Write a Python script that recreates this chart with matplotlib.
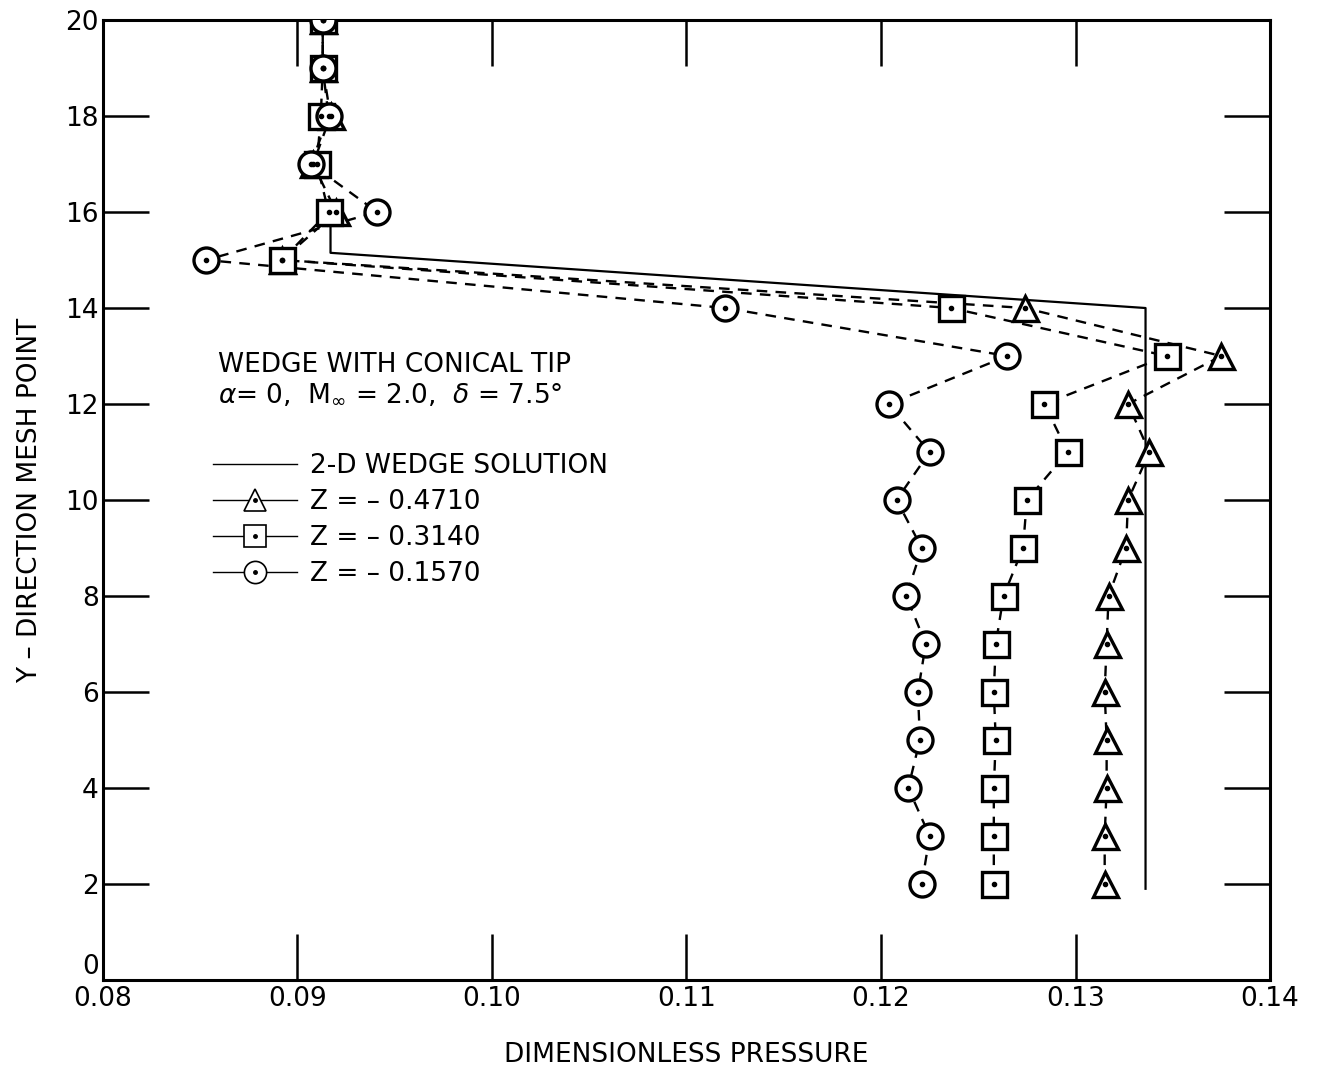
import matplotlib
matplotlib.use("Agg")
import matplotlib.pyplot as plt
from matplotlib.lines import Line2D

plt.rcParams['font.family'] = ['DejaVu Sans']

mesh_y = [2, 3, 4, 5, 6, 7, 8, 9, 10, 11, 12, 13, 14, 15, 16, 17, 18, 19, 20]

# pressure along the y mesh lines for three z stations
p_z0471 = [0.1315, 0.1315, 0.1316, 0.1316, 0.1315, 0.1316, 0.1317, 0.1326, 0.1327, 0.1338,
           0.1327, 0.1375, 0.1274, 0.0892, 0.0920, 0.0908, 0.0917, 0.0913, 0.0913]
p_z0314 = [0.1258, 0.1258, 0.1258, 0.1259, 0.1258, 0.1259, 0.1263, 0.1273, 0.1275, 0.1296,
           0.1284, 0.1347, 0.1236, 0.0892, 0.0916, 0.0910, 0.0912, 0.0913, 0.0913]
p_z0157 = [0.1221, 0.1225, 0.1214, 0.1220, 0.1219, 0.1223, 0.1213, 0.1221, 0.1208, 0.1225,
           0.1204, 0.1265, 0.1120, 0.0853, 0.0941, 0.0907, 0.0916, 0.0913, 0.0913]

# 2-D wedge solution (shock between y=14 and y=15)
wedge_y = [1.9, 14.0, 15.15, 16.0]
wedge_p = [0.1336, 0.1336, 0.0917, 0.0917]

series = [
    (p_z0471, '^', 'Z = – 0.4710'),
    (p_z0314, 's', 'Z = – 0.3140'),
    (p_z0157, 'o', 'Z = – 0.1570'),
]

fig = plt.figure(figsize=(13.18, 10.66), dpi=100)
ax = fig.add_axes([0.0781, 0.0807, 0.8855, 0.9005])

ax.plot(wedge_p, wedge_y, color='black', lw=1.6, zorder=2)

handles = [Line2D([], [], color='black', lw=1.0)]
labels = ['2-D WEDGE SOLUTION']
for vals, mk, lab in series:
    ax.plot(vals, mesh_y, color='black', lw=1.7, dashes=(4.5, 3.5), zorder=3)
    ax.plot(vals, mesh_y, ls='none', marker=mk, ms=18, mfc='white', mec='black',
            mew=2.4, zorder=4)
    ax.plot(vals, mesh_y, ls='none', marker='o', ms=3, color='black', zorder=5)
    h_line = Line2D([], [], color='black', lw=1.0, marker=mk, ms=16, mfc='white',
                    mec='black', mew=1.2)
    h_dot = Line2D([], [], ls='none', marker='o', ms=2.5, color='black')
    handles.append((h_line, h_dot))
    labels.append(lab)

ax.set_xlim(0.08, 0.14)
ax.set_ylim(0, 20)
ax.set_xticks([0.08, 0.09, 0.10, 0.11, 0.12, 0.13, 0.14])
ax.set_xticklabels(['0.08', '0.09', '0.10', '0.11', '0.12', '0.13', '0.14'])
ax.set_yticks(range(0, 21, 2))
ax.tick_params(axis='both', which='major', direction='in', length=33, width=1.8,
               labelsize=19, top=True, right=True, pad=4)
ax.tick_params(axis='y', pad=3)
# lift the "0" so it clears the 0.08 label in the corner
ax.get_yticklabels()[0].set_va('bottom')
for sp in ax.spines.values():
    sp.set_linewidth(2.2)

ax.set_xlabel('DIMENSIONLESS PRESSURE', fontsize=19, labelpad=22)
ax.set_ylabel('Y – DIRECTION MESH POINT', fontsize=19, labelpad=16)

ax.text(0.0859, 12.81, 'WEDGE WITH CONICAL TIP', fontsize=19, va='center', ha='left')
ax.text(0.0859, 12.19, r'$\alpha$= 0,  M$_{\infty}$ = 2.0,  $\delta$ = 7.5°',
        fontsize=19, va='center', ha='left')

ax.legend(handles, labels, loc='upper left', bbox_to_anchor=(0.085, 0.56),
          frameon=False, fontsize=19, handlelength=3.2, handletextpad=0.5,
          labelspacing=0.38, borderaxespad=0)

fig.savefig('out.png', dpi=100)
